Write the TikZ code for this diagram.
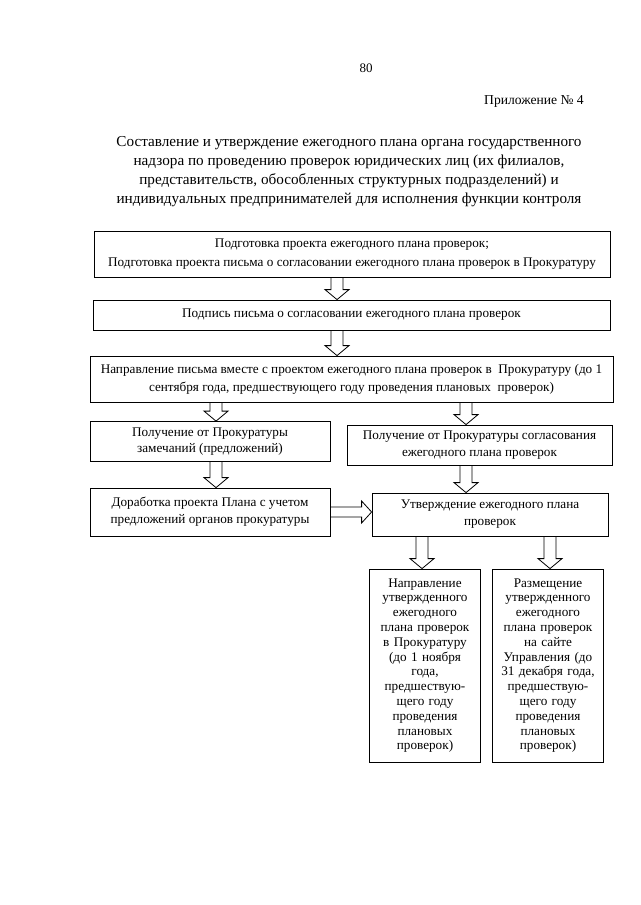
\documentclass[tikz,border=0pt]{standalone}
\usepackage{fontspec}
\setmainfont{Liberation Serif}
\usetikzlibrary{calc}
\tikzset{
  box/.style={draw, line width=0.8pt, align=center, inner sep=2pt, font=\fontsize{13.2}{18}\selectfont},
  blockdown/.style={draw, line width=0.8pt, to path={
    let \p1=(\tikztostart), \p2=(\tikztotarget) in
    (\x1-6pt,\y1) -- (\x1-6pt,\y2+10pt) -- (\x1-12pt,\y2+10pt) -- (\x1,\y2)
    -- (\x1+12pt,\y2+10pt) -- (\x1+6pt,\y2+10pt) -- (\x1+6pt,\y1)}},
  blockright/.style={draw, line width=0.8pt, to path={
    let \p1=(\tikztostart), \p2=(\tikztotarget) in
    (\x1,\y1+5pt) -- (\x2-10pt,\y1+5pt) -- (\x2-10pt,\y1+11pt) -- (\x2,\y1)
    -- (\x2-10pt,\y1-11pt) -- (\x2-10pt,\y1-5pt) -- (\x1,\y1-5pt)}},
  plain/.style={inner sep=0pt}
}
\begin{document}
\begin{tikzpicture}[x=1pt,y=-1pt]
\useasboundingbox (0,0) rectangle (640,905);
\fill[white] (0,0) rectangle (640,905);

\node[plain, font=\fontsize{13}{15}\selectfont] (pg) at (366,68) {80};
\node[plain, anchor=east, font=\fontsize{13.6}{15}\selectfont] (app) at (584,101) {Приложение № 4};
\node[plain, align=center, font=\fontsize{15.2}{19}\selectfont] (title) at (349,172)
 {Составление и утверждение ежегодного плана органа государственного\\
  надзора по проведению проверок юридических лиц (их филиалов,\\
  представительств, обособленных структурных подразделений) и\\
  индивидуальных предпринимателей для исполнения функции контроля};

\node[box, minimum width=516pt, minimum height=46pt, font=\fontsize{13.2}{19}\selectfont] (b1) at (352,254)
 {Подготовка проекта ежегодного плана проверок;\\
  Подготовка проекта письма о согласовании ежегодного плана проверок в Прокуратуру};
\node[box, minimum width=517pt, minimum height=30pt] (b2) at (351.5,315)
 {Подпись письма о согласовании ежегодного плана проверок};
\node[box, minimum width=523pt, minimum height=46pt] (b3) at (351.5,379)
 {Направление письма вместе с проектом ежегодного плана проверок в\ \ Прокуратуру (до 1\\
  сентября года, предшествующего году проведения плановых\ \ проверок)};
\node[box, minimum width=240pt, minimum height=40pt, font=\fontsize{13.2}{16}\selectfont] (b4l) at (210,441.5)
 {Получение от Прокуратуры\\замечаний (предложений)};
\node[box, minimum width=265pt, minimum height=40pt, font=\fontsize{13.2}{17}\selectfont] (b4r) at (479.5,445)
 {Получение от Прокуратуры согласования\\ежегодного плана проверок};
\node[box, minimum width=240pt, minimum height=48pt, font=\fontsize{13.2}{17}\selectfont] (b5l) at (210,512)
 {Доработка проекта Плана с учетом\\предложений органов прокуратуры};
\node[box, minimum width=236pt, minimum height=43pt, font=\fontsize{13.2}{17}\selectfont] (b5r) at (490,514.5)
 {Утверждение ежегодного плана\\проверок};
\node[box, minimum width=111pt, minimum height=193pt, text width=106pt, font=\fontsize{13.2}{14.8}\selectfont] (b6) at (425,665.5)
 {Направление\\утвержденного\\ежегодного\\плана проверок\\в Прокуратуру\\(до 1 ноября\\года,\\предшествую-\\щего году\\проведения\\плановых\\проверок)};
\node[box, minimum width=111pt, minimum height=193pt, text width=106pt, font=\fontsize{13.2}{14.8}\selectfont] (b7) at (548,665.5)
 {Размещение\\утвержденного\\ежегодного\\плана проверок\\на сайте\\Управления (до\\31 декабря года,\\предшествую-\\щего году\\проведения\\плановых\\проверок)};

\draw[blockdown] ([xshift=-15pt]b1.south) to ([xshift=-14.5pt]b2.north);
\draw[blockdown] ([xshift=-14.5pt]b2.south) to ([xshift=-14.5pt]b3.north);
\draw[blockdown] (b3.south -| {(216,0)}) to ([xshift=6pt]b4l.north);
\draw[blockdown] (b3.south -| {(466,0)}) to ([xshift=-13.5pt]b4r.north);
\draw[blockdown] ([xshift=6pt]b4l.south) to ([xshift=6pt]b5l.north);
\draw[blockdown] ([xshift=-13.5pt]b4r.south) to ([xshift=-24pt]b5r.north);
\draw[blockdown] ([xshift=-3pt]b5r.south -| b6.north) to ([xshift=-3pt]b6.north);
\draw[blockdown] ([xshift=2pt]b5r.south -| b7.north) to ([xshift=2pt]b7.north);
\draw[blockright] (b5l.east) to (b5l.east -| b5r.west);
\end{tikzpicture}
\end{document}
